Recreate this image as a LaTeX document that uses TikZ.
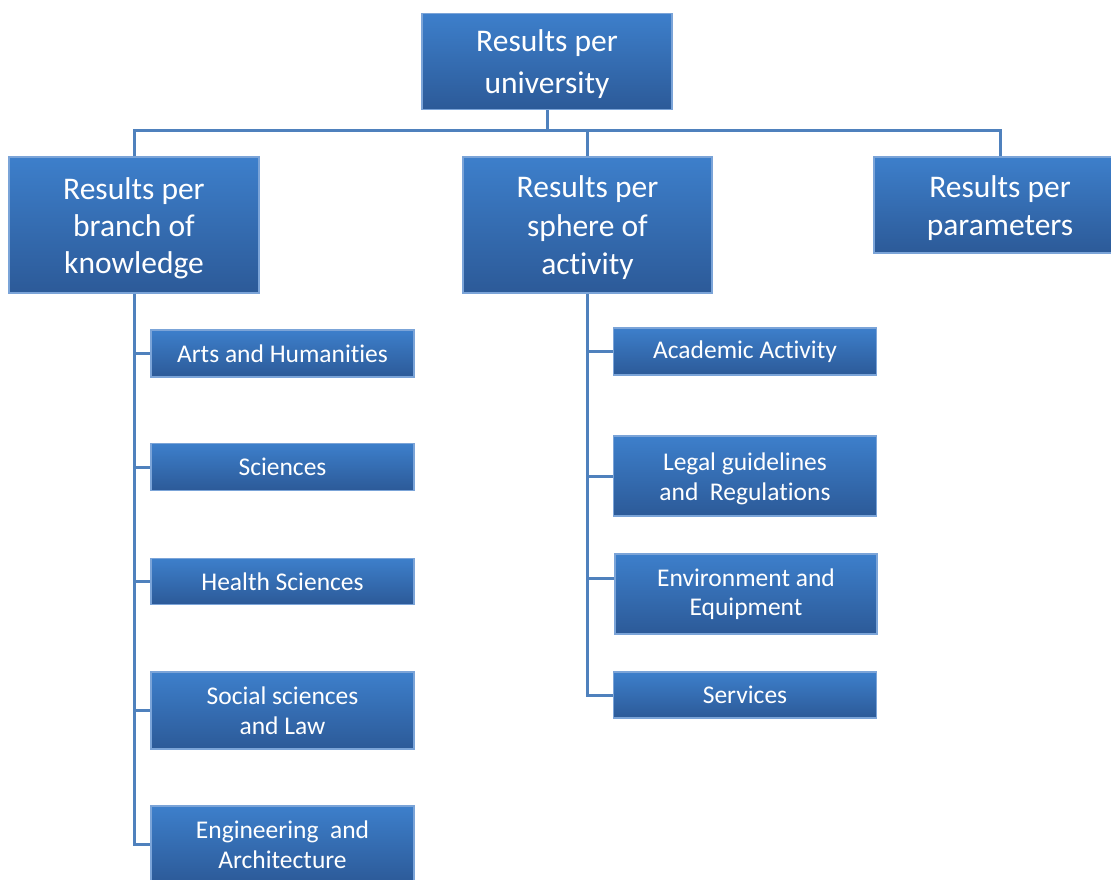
\documentclass[tikz,border=0pt]{standalone}
\usepackage{fontspec}
\setmainfont{Carlito}[Ligatures=NoCommon]
\definecolor{boxtop}{HTML}{3D7FCB}
\definecolor{boxbot}{HTML}{2C5A98}
\definecolor{boxedge}{HTML}{7BA4D8}
\definecolor{linecol}{HTML}{4F81BD}
\begin{document}
\begin{tikzpicture}[x=1pt,y=-1pt,
  box/.style={rectangle, top color=boxtop, bottom color=boxbot, draw=boxedge, line width=1.2pt,
    inner sep=0pt},
  bigbox/.style={box, minimum width=249pt},
  smallbox/.style={box, minimum width=263pt},
  bigtext/.style={text=white, align=center, inner sep=0pt, yshift=-3pt, font=\fontsize{31.5}{38.5}\selectfont},
  smalltext/.style={text=white, align=center, inner sep=0pt, font=\fontsize{25.5}{29.5}\selectfont},
  conn/.style={draw=linecol, line width=3pt}]
\useasboundingbox (0,0) rectangle (1111,879);
% top level
\node[bigbox, minimum width=250pt, minimum height=96pt,
  label={[bigtext, font=\fontsize{31.5}{42}\selectfont]center:{Results per\\university}}] (top) at (547,61.5) {};
\node[bigbox, minimum width=250pt, minimum height=136pt,
  label={[bigtext, font=\fontsize{31.5}{37}\selectfont]center:{Results per\\branch of\\knowledge}}] (branch) at (134,225) {};
\node[bigbox, minimum height=136pt,
  label={[bigtext]center:{Results per\\sphere of\\activity}}] (sphere) at (587.5,225) {};
\node[bigbox, minimum width=252pt, minimum height=96pt,
  label={[bigtext]center:{Results per\\parameters}}] (params) at (1000,205) {};
\coordinate (bus) at (545,130);
% left column
\node[smallbox, minimum height=47pt, label={[smalltext]center:Arts and Humanities}] (arts) at (282.5,353.5) {};
\node[smallbox, minimum height=47pt, label={[smalltext]center:Sciences}] (sci) at (282.5,467) {};
\node[smallbox, minimum height=46pt, label={[smalltext]center:Health Sciences}] (health) at (282.5,581.5) {};
\node[smallbox, minimum height=77pt, label={[smalltext]center:{Social sciences\\and Law}}] (social) at (282.5,710.5) {};
\node[smallbox, minimum height=77pt, label={[smalltext]center:{Engineering\ \ and\\Architecture}}] (eng) at (282.5,844.5) {};
% right column
\node[smallbox, minimum height=47pt, label={[smalltext]center:Academic Activity}] (acad) at (745,351.5) {};
\node[smallbox, minimum height=80pt, label={[smalltext, yshift=-3pt]center:{Legal guidelines\\and\ \ Regulations}}] (legal) at (745,476) {};
\node[smallbox, minimum width=262pt, minimum height=80pt, label={[smalltext]center:{Environment and\\Equipment}}] (env) at (746,594) {};
\node[smallbox, minimum height=46pt, label={[smalltext]center:Services}] (serv) at (745,695) {};
% connectors
\draw[conn] (top.south) -- (top.south |- bus);
\draw[conn] (branch.north) -- (branch.north |- bus) -| (params.north);
\draw[conn] (sphere.north) -- (sphere.north |- bus);
\draw[conn] (branch.south) -- (branch.south |- eng.west) -- (eng.west);
\draw[conn] (branch.south |- arts.west) -- (arts.west);
\draw[conn] (branch.south |- sci.west) -- (sci.west);
\draw[conn] (branch.south |- health.west) -- (health.west);
\draw[conn] (branch.south |- social.west) -- (social.west);
\draw[conn] (sphere.south) -- (sphere.south |- serv.west) -- (serv.west);
\draw[conn] (sphere.south |- acad.west) -- (acad.west);
\draw[conn] (sphere.south |- legal.west) -- (legal.west);
\draw[conn] ([yshift=16pt]sphere.south |- env.west) -- ([yshift=16pt]env.west);
\end{tikzpicture}
\end{document}
